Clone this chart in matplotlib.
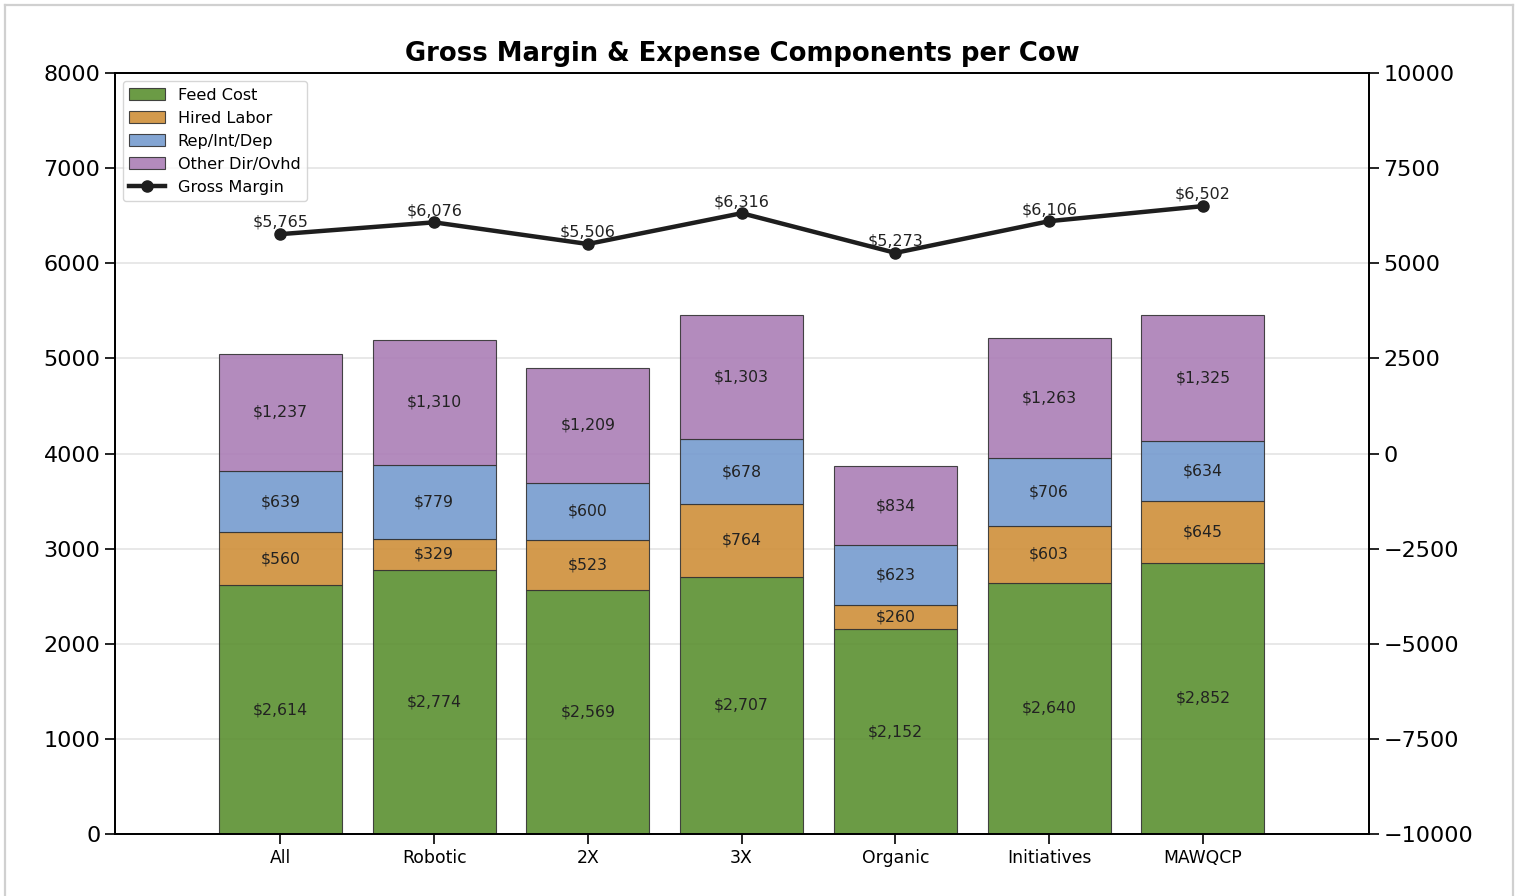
## Gross margin and expense components per cow

import numpy as np
import matplotlib.pyplot as plt
from matplotlib.lines import Line2D

groups = ['All', 'Robotic', '2X', '3X', 'Organic', 'Initiatives', 'MAWQCP']
feed_cost = [2614, 2774, 2569, 2707, 2152, 2640, 2852]
hired_labor = [560, 329, 523, 764, 260, 603, 645]
rep_int_dep = [639, 779, 600, 678, 623, 706, 634]
other_dir_ovhd = [1237, 1310, 1209, 1303, 834, 1263, 1325]
gross_margin = [5765, 6076, 5506, 6316, 5273, 6106, 6502]

component_names = ['Feed Cost', 'Hired Labor', 'Rep/Int/Dep', 'Other Dir/Ovhd']
component_colors = ['#5b9031', '#cf8f3a', '#769bcf', '#ab7eb6']

fig = plt.figure(figsize=(15.23, 8.96), dpi=100)
ax = fig.add_axes([0.0755, 0.0692, 0.8234, 0.8493])
ax2 = ax.twinx()

x = np.arange(len(groups))
bottom = np.zeros(len(groups))
for name, vals, col in zip(component_names,
                           [feed_cost, hired_labor, rep_int_dep, other_dir_ovhd],
                           component_colors):
    vals = np.array(vals)
    bars = ax.bar(x, vals, 0.8, bottom=bottom, color=col, alpha=0.9,
                  edgecolor='#333333', linewidth=0.8, label=name, zorder=2)
    for xi, b, v in zip(x, bottom, vals):
        ax.text(xi, b + v / 2, '${:,}'.format(v), ha='center', va='center',
                fontsize=11.3, color='#222222', zorder=3)
    bottom = bottom + vals

ax.set_ylim(0, 8000)
ax.set_yticks(range(0, 8001, 1000))
ax.set_xlim(-1.075, 7.08)
ax.set_xticks(x)
ax.set_xticklabels(groups, fontsize=12.4)
ax.tick_params(axis='y', labelsize=16, length=7, width=1.2)
ax.tick_params(axis='x', length=7, width=1.2)
ax.grid(axis='y', color='#e4e4e4', linewidth=1.2, zorder=0)
ax.set_axisbelow(True)

gm_line, = ax2.plot(x, gross_margin, color='#1e1e1e', linewidth=3.2,
                    marker='o', markersize=8, label='Gross Margin', zorder=4)
for xi, v in zip(x, gross_margin):
    ax2.annotate('${:,}'.format(v), (xi, v), xytext=(0, 3),
                 textcoords='offset points', ha='center', va='bottom',
                 fontsize=11.5, color='#222222',
                 bbox=dict(boxstyle='square,pad=0.05', fc='white', ec='none', alpha=0.7))
ax2.set_ylim(-10000, 10000)
ax2.set_yticks(range(-10000, 10001, 2500))
ax2.tick_params(axis='y', labelsize=16, length=7, width=1.2)

for a in (ax, ax2):
    for s in a.spines.values():
        s.set_linewidth(1.3)

handles, labels = ax.get_legend_handles_labels()
leg = ax2.legend(handles + [gm_line], labels + ['Gross Margin'], loc='upper left',
                 fontsize=11.6, frameon=True, edgecolor='#cccccc',
                 borderaxespad=0.5, handlelength=2.2)
leg.set_zorder(10)

ax.set_title('Gross Margin & Expense Components per Cow', fontsize=18.6,
             fontweight='bold', pad=9)

# light grey frame around the picture
frame_col = '#d0d0d0'
fig.add_artist(Line2D([5 / 1523, 5 / 1523], [0, 1 - 5 / 896], color=frame_col, linewidth=1.6))
fig.add_artist(Line2D([5 / 1523, 1513 / 1523], [1 - 5 / 896, 1 - 5 / 896], color=frame_col, linewidth=1.6))
fig.add_artist(Line2D([1513 / 1523, 1513 / 1523], [0, 1 - 5 / 896], color=frame_col, linewidth=1.6))

fig.savefig('out.png', dpi=100)
